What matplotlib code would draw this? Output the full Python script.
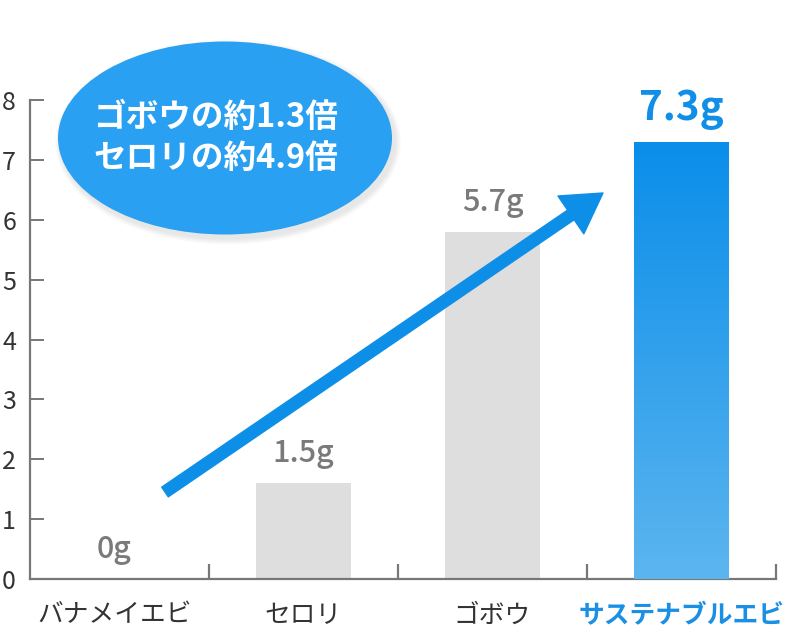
import numpy as np
import matplotlib
matplotlib.use("Agg")
import matplotlib.pyplot as plt
from matplotlib.patches import Ellipse

plt.rcParams['font.family'] = ['Noto Sans CJK JP', 'DejaVu Sans']

# data
categories = ["バナメイエビ", "セロリ", "ゴボウ", "サステナブルエビ"]
values = [0.0, 1.6, 5.8, 7.3]
value_labels = ["0g", "1.5g", "5.7g", "7.3g"]
yticks = [0, 1, 2, 3, 4, 5, 6, 7, 8]
callout = "ゴボウの約1.3倍\nセロリの約4.9倍"

GRAY_BAR = "#dedede"
BLUE = "#0d8fe8"
AXIS = "#777777"

fig = plt.figure(figsize=(7.88, 6.36), dpi=100)
ax = fig.add_axes([30 / 788, 57 / 636, 746 / 788, 479 / 636])

x = np.arange(len(categories))
bars = ax.bar(x, values, width=0.5, color=[GRAY_BAR, GRAY_BAR, GRAY_BAR, BLUE], zorder=2)

# gradient on the highlighted bar
last = bars[-1]
grad = np.linspace(0, 1, 256).reshape(-1, 1)
cmap = matplotlib.colors.LinearSegmentedColormap.from_list("g", ["#0a8eea", "#5cb5ef"])
bx = last.get_x()
img = ax.imshow(grad, cmap=cmap, aspect="auto", origin="upper",
                extent=[bx, bx + last.get_width(), 0, last.get_height()], zorder=3)
img.set_clip_path(last)

ax.set_xlim(-0.447, 3.5)
ax.set_ylim(0, 8)

for s in ["top", "right"]:
    ax.spines[s].set_visible(False)
for s in ["left", "bottom"]:
    ax.spines[s].set_color(AXIS)
    ax.spines[s].set_linewidth(1.6)

ax.set_yticks(yticks)
ax.set_yticklabels([str(t) for t in yticks])
ax.tick_params(axis="y", direction="in", length=10, width=1.4, color=AXIS,
               labelsize=18, labelcolor="#333333", pad=10)

# x: tick marks at boundaries, labels at centers
ax.set_xticks([0.5, 1.5, 2.5, 3.5])
ax.set_xticklabels([])
ax.tick_params(axis="x", direction="in", length=11, width=1.6, color=AXIS)
ax.set_xticks(x, minor=True)
ax.set_xticklabels(categories, minor=True)
ax.tick_params(axis="x", which="minor", length=0, pad=17, labelsize=18.5, labelcolor="#333333")
xl = ax.get_xticklabels(minor=True)
xl[-1].set_color("#1a8fe3")
xl[-1].set_fontweight("bold")

# value labels
for i, (v, t) in enumerate(zip(values, value_labels)):
    if i == len(values) - 1:
        ax.annotate(t, (i, v), xytext=(0, 16), textcoords="offset points",
                    ha="center", va="baseline", fontsize=29, fontweight="bold",
                    color="#118ee6", zorder=5)
    else:
        ax.annotate(t, (i, v), xytext=(0, 15), textcoords="offset points",
                    ha="center", va="baseline", fontsize=22, fontweight="medium",
                    color="#7a7a7a", zorder=5)

# arrow
ax.annotate("", xy=(603, 636 - 193), xytext=(165, 636 - 492),
            xycoords="figure pixels", textcoords="figure pixels",
            arrowprops=dict(arrowstyle="simple,head_length=1.4,head_width=1.65,tail_width=0.42",
                            mutation_scale=20, color="#0d8fe8", shrinkA=0, shrinkB=0),
            zorder=6)

# callout ellipse with soft shadow
cx, cy = 225 / 788, 1 - 138 / 636
ew, eh = 334 / 788, 193 / 636
for k in range(6, 0, -1):
    fig.patches.append(Ellipse((cx + 3 / 788, cy - 4 / 636), ew + 2 * k / 788, eh + 2 * k / 636,
                               transform=fig.transFigure, color="black", alpha=0.015, lw=0))
fig.patches.append(Ellipse((cx, cy), ew, eh, transform=fig.transFigure,
                           color="#29a0f1", lw=0))
fig.text(93 / 788, 1 - 138 / 636, callout, ha="left", va="center", fontsize=23.5,
         fontweight="bold", color="white", linespacing=1.3)

fig.savefig("out.png", dpi=100)
